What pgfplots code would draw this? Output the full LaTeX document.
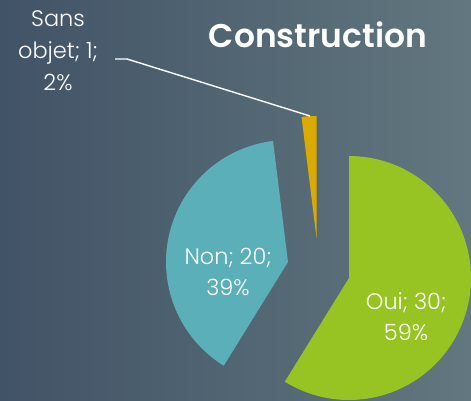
\documentclass[border=0pt]{standalone}
\usepackage{pgfplots}
\pgfplotsset{compat=1.18}
\usepackage{pgfplotstable}
\usepackage{fontspec}
\setmainfont{Poppins}
\newfontfamily\lightfont{Poppins Light}
\newfontfamily\semifont{Poppins SemiBold}
\definecolor{bgL}{HTML}{415366}
\definecolor{bgR}{HTML}{62777F}
\definecolor{oui}{HTML}{97C423}
\definecolor{non}{HTML}{5AAFB9}
\definecolor{sans}{HTML}{DAAA00}
% values of the pie
\pgfplotstableread{
label value cx cy
Oui 30 349 123
Non 20 288 139
Sans 1 316.5 163
}\piedata
\pgfmathsetmacro{\vOui}{30}
\pgfmathsetmacro{\vNon}{20}
\pgfmathsetmacro{\vSans}{1}
\pgfmathsetmacro{\tot}{\vOui+\vNon+\vSans}
\pgfmathsetmacro{\aA}{90}
\pgfmathsetmacro{\aB}{90-360*\vOui/\tot}
\pgfmathsetmacro{\aC}{\aB-360*\vNon/\tot}
\pgfmathsetmacro{\aD}{\aC-360*\vSans/\tot}
\def\R{122}
\begin{document}
\begin{tikzpicture}
\begin{axis}[
  scale only axis, width=471bp, height=401bp,
  xmin=0, xmax=471, ymin=0, ymax=401,
  axis lines=none, ticks=none,
  axis background/.style={shade, shading angle=80, left color=bgL, right color=bgR},
]
\addplot[fill=oui, draw=none, domain=\aB:\aA, samples=90, variable=\t]
  ({349+\R*cos(\t)}, {123+\R*sin(\t)}) -- (349,123) -- cycle;
\addplot[fill=non, draw=none, domain=\aC:\aB, samples=90, variable=\t]
  ({288+\R*cos(\t)}, {139+\R*sin(\t)}) -- (288,139) -- cycle;
\addplot[fill=sans, draw=none, domain=\aD:\aC, samples=10, variable=\t]
  ({316.5+\R*cos(\t)}, {163+\R*sin(\t)}) -- (316.5,163) -- cycle;
\addplot[white, line width=1.4pt] coordinates {(115,342) (127,342) (310,285)};
\node[text=white, align=center, font=\lightfont\fontsize{22.5}{32}\selectfont] at (58,350) {Sans\\objet; 1;\\2\%};
\node[text=white, align=center, font=\lightfont\fontsize{22.5}{31}\selectfont] at (228,129) {Non; 20;\\39\%};
\node[text=white, align=center, font=\lightfont\fontsize{22.5}{31}\selectfont] at (406,84) {Oui; 30;\\59\%};
\node[text=white, font=\semifont\fontsize{33}{38}\selectfont] at (318,366) {Construction};
\end{axis}
\pgfresetboundingbox
\path (current axis.south west) rectangle (current axis.north east);
\end{tikzpicture}
\end{document}
